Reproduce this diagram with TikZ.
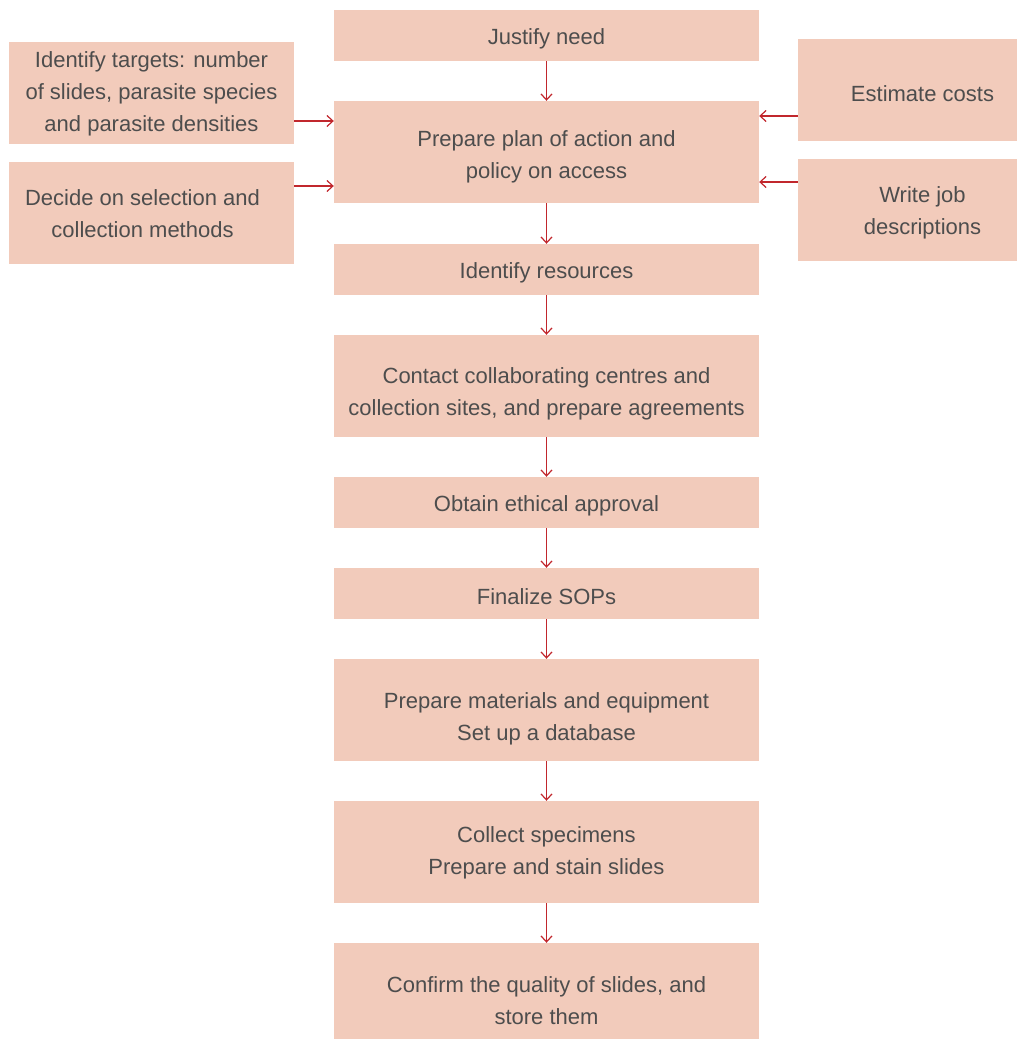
\documentclass[tikz,border=0pt]{standalone}
\usepackage{fontspec}
\setmainfont{Liberation Sans}
\usetikzlibrary{arrows.meta}
\definecolor{boxpink}{HTML}{F2CBBB}
\definecolor{textgray}{HTML}{4D4D4D}
\definecolor{arrowred}{HTML}{C1272D}
\newcommand{\padh}{22}
\begin{document}
\begin{tikzpicture}[x=1pt, y=-1pt, every node/.append style={font=\fontsize{22}{32}\selectfont, text=textgray, align=center,
    execute at begin node={\rule{0pt}{\padh pt}}},
  pad/.code={\renewcommand{\padh}{#1}},
  box/.style={fill=boxpink, inner sep=0pt, minimum width=425pt, minimum height=102pt, pad=58},
  flat/.style={box, minimum height=51pt, pad=22},
  side/.style={fill=boxpink, inner sep=0pt, minimum height=102pt, pad=50},
  arr/.style={draw=arrowred, line width=1.2pt, -{Straight Barb[length=6pt, width=11pt]}}]
  \useasboundingbox (0,0) rectangle (1017,1039);
  % centre column
  \node[flat] (justify)   at (546.5,35.5)  {Justify need};
  \node[box]  (plan)      at (546.5,152)   {Prepare plan of action and\\policy on access};
  \node[flat] (resources) at (546.5,269.5) {Identify resources};
  \node[box, pad=64]  (contact)   at (546.5,386)   {Contact collaborating centres and\\collection sites, and prepare agreements};
  \node[flat] (ethics)    at (546.5,502.5) {Obtain ethical approval};
  \node[flat] (sops)      at (546.5,593.5) {Finalize SOPs};
  \node[box, pad=66]  (materials) at (546.5,710)   {Prepare materials and equipment\\Set up a database};
  \node[box, pad=50]  (collect)   at (546.5,852)   {Collect specimens\\Prepare and stain slides};
  \node[box, pad=50, minimum height=114pt] (confirm) at (546.5,1000) {Confirm the quality of slides, and\\store them};
  % side boxes
  \node[side, minimum width=285pt, pad=82] (targets) at (151.5,93)  {Identify targets: number\\of slides, parasite species\\and parasite densities};
  \node[side, minimum width=285pt] (decide)  at (151.5,213) {\hspace*{-18pt}Decide on selection and\\\hspace*{-18pt}collection methods};
  \node[side, minimum width=219pt, pad=24] (costs)   at (907.5,90)  {\hspace*{30pt}Estimate costs};
  \node[side, minimum width=219pt, pad=54] (jobs)    at (907.5,210) {\hspace*{30pt}Write job\\\hspace*{30pt}descriptions};
  % arrows
  \foreach \a/\b in {justify/plan, plan/resources, resources/contact, contact/ethics, ethics/sops, sops/materials, materials/collect, collect/confirm}
    \draw[arr] (\a) -- (\b);
  \draw[arr] ([yshift=-28pt]targets.east) coordinate (t1) -- (t1 -| plan.west);
  \draw[arr] ([yshift=27pt]decide.east) coordinate (t2) -- (t2 -| plan.west);
  \draw[arr] ([yshift=-26pt]costs.west) coordinate (t3) -- (t3 -| plan.east);
  \draw[arr] ([yshift=28pt]jobs.west) coordinate (t4) -- (t4 -| plan.east);
\end{tikzpicture}
\end{document}
